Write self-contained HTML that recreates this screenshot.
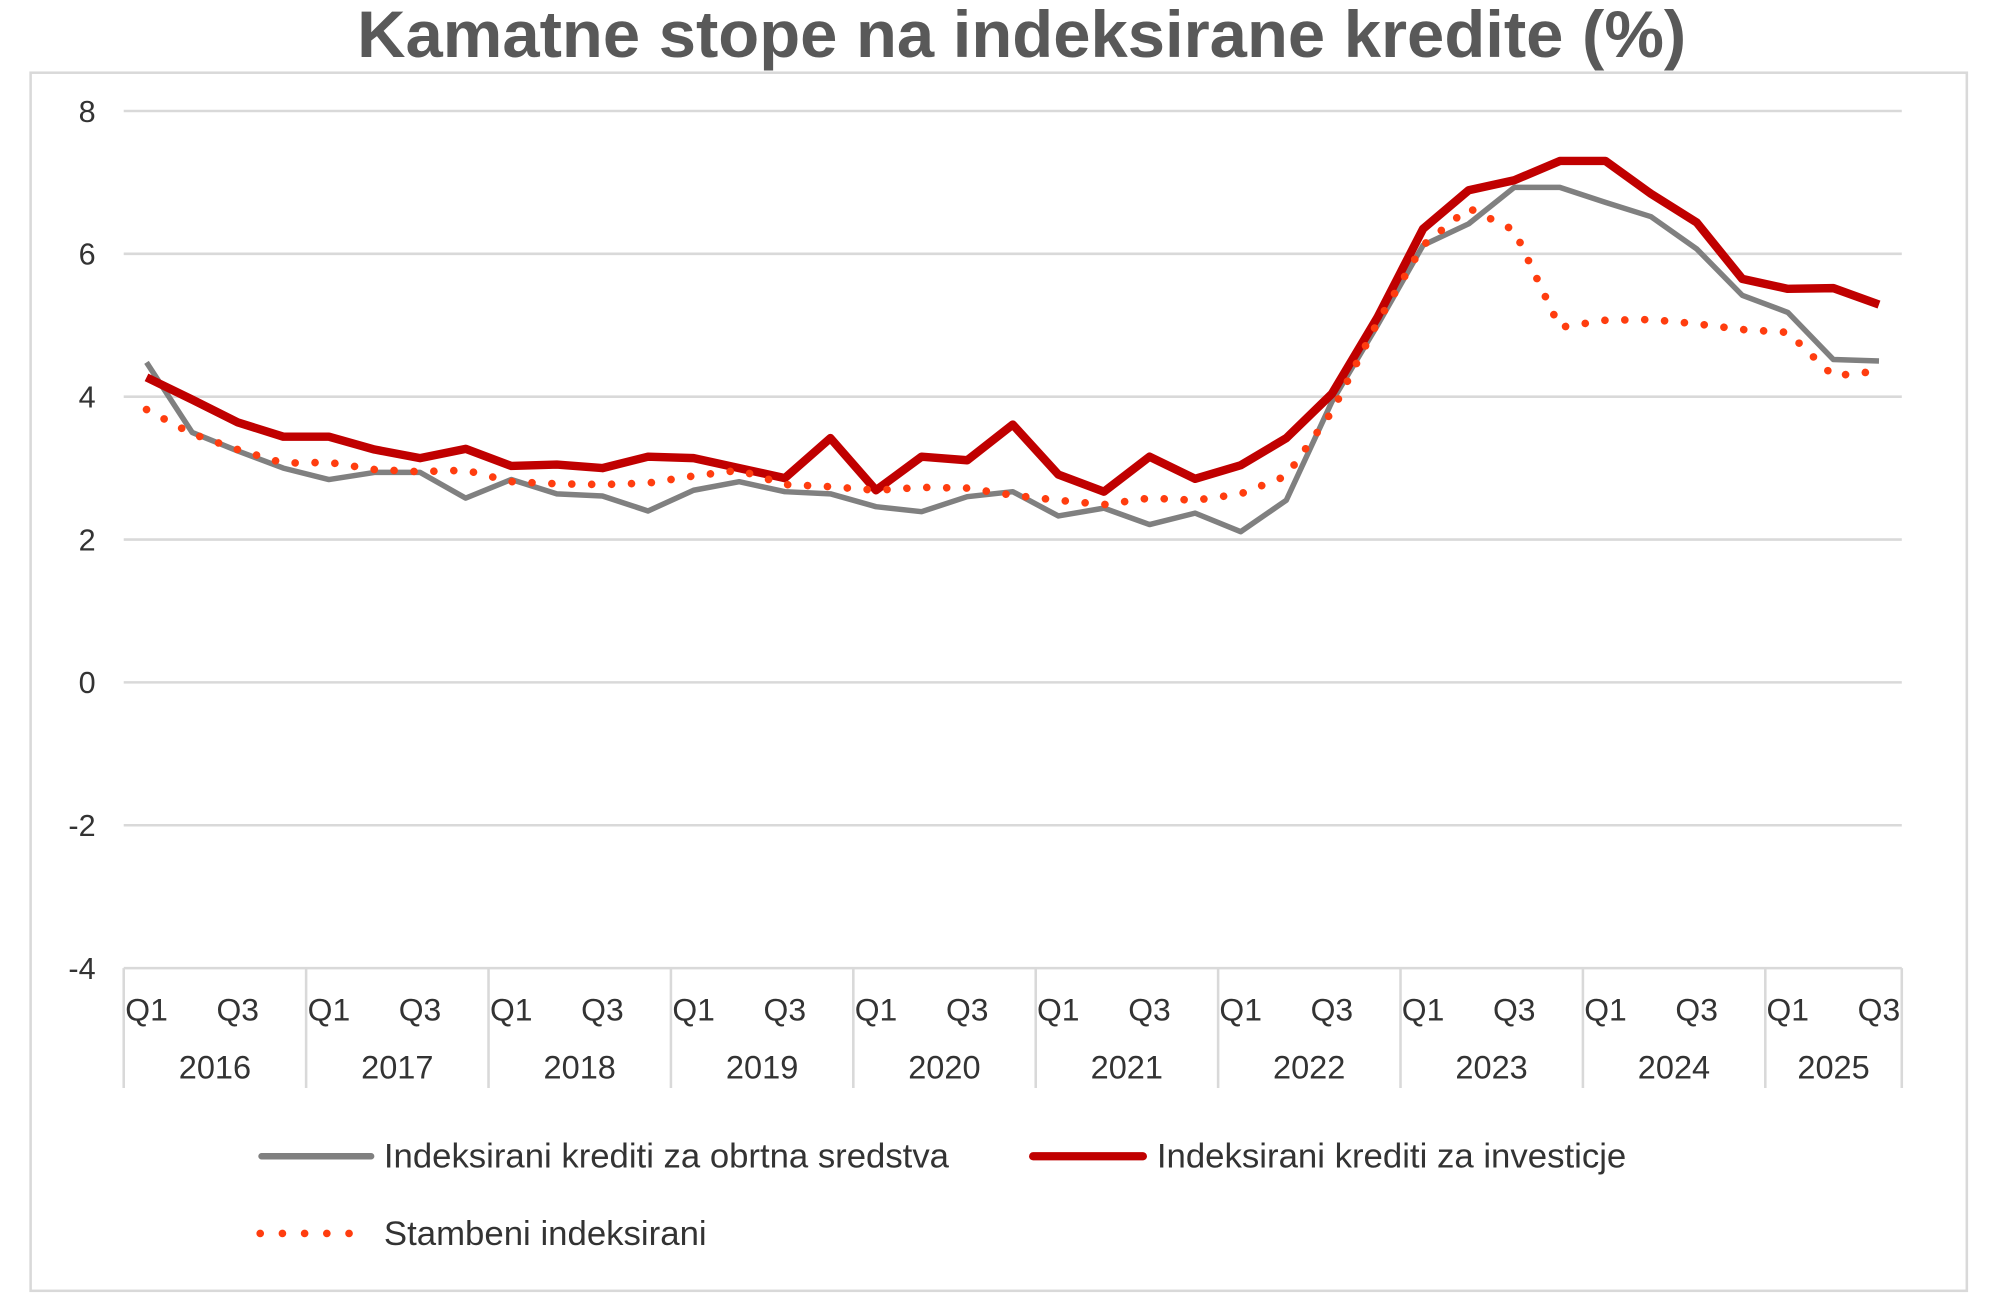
<!DOCTYPE html>
<html>
<head>
<meta charset="utf-8">
<style>
  html, body { margin: 0; padding: 0; background: #ffffff; }
  body { width: 2000px; height: 1300px; overflow: hidden; }
  svg { display: block; }
  text { font-family: "Liberation Sans", Arial, sans-serif; }
</style>
</head>
<body>
<svg width="2000" height="1300" viewBox="0 0 1568 1019.2" preserveAspectRatio="none" xmlns="http://www.w3.org/2000/svg">
  <rect x="0" y="0" width="1568" height="1019.2" fill="#ffffff"/>

  <!-- Title -->
  <text x="801" y="44.5" text-anchor="middle" font-size="52" font-weight="bold" fill="#595959" textLength="1042" lengthAdjust="spacingAndGlyphs">Kamatne stope na indeksirane kredite (%)</text>

  <!-- Chart border -->
  <rect x="24" y="57" width="1518" height="955" fill="#ffffff" stroke="#d9d9d9" stroke-width="2"/>

  <!-- Gridlines -->
  <g stroke="#d9d9d9" stroke-width="2">
    <line x1="97" y1="87" x2="1491" y2="87"/>
    <line x1="97" y1="199" x2="1491" y2="199"/>
    <line x1="97" y1="311" x2="1491" y2="311"/>
    <line x1="97" y1="423" x2="1491" y2="423"/>
    <line x1="97" y1="535" x2="1491" y2="535"/>
    <line x1="97" y1="647" x2="1491" y2="647"/>
    <line x1="97" y1="759" x2="1491" y2="759"/>
  </g>

  <!-- Y labels -->
  <g font-size="24" fill="#333333" text-anchor="end">
    <text x="75" y="95.5">8</text>
    <text x="75" y="207.5">6</text>
    <text x="75" y="319.5">4</text>
    <text x="75" y="431.5">2</text>
    <text x="75" y="543.5">0</text>
    <text x="75" y="655.5">-2</text>
    <text x="75" y="767.5">-4</text>
  </g>

  <!-- X axis separators -->
  <g stroke="#d9d9d9" stroke-width="2">
    <line x1="97" y1="759" x2="97" y2="853"/>
    <line x1="240" y1="759" x2="240" y2="853"/>
    <line x1="383" y1="759" x2="383" y2="853"/>
    <line x1="526" y1="759" x2="526" y2="853"/>
    <line x1="669" y1="759" x2="669" y2="853"/>
    <line x1="812" y1="759" x2="812" y2="853"/>
    <line x1="955" y1="759" x2="955" y2="853"/>
    <line x1="1098" y1="759" x2="1098" y2="853"/>
    <line x1="1241" y1="759" x2="1241" y2="853"/>
    <line x1="1384" y1="759" x2="1384" y2="853"/>
    <line x1="1491" y1="759" x2="1491" y2="853"/>
  </g>

  <!-- Quarter labels -->
  <g font-size="25" fill="#333333" text-anchor="middle">
    <text x="114.9" y="800">Q1</text><text x="186.4" y="800">Q3</text>
    <text x="257.9" y="800">Q1</text><text x="329.3" y="800">Q3</text>
    <text x="400.8" y="800">Q1</text><text x="472.3" y="800">Q3</text>
    <text x="543.8" y="800">Q1</text><text x="615.3" y="800">Q3</text>
    <text x="686.8" y="800">Q1</text><text x="758.3" y="800">Q3</text>
    <text x="829.7" y="800">Q1</text><text x="901.2" y="800">Q3</text>
    <text x="972.7" y="800">Q1</text><text x="1044.2" y="800">Q3</text>
    <text x="1115.7" y="800">Q1</text><text x="1187.2" y="800">Q3</text>
    <text x="1258.7" y="800">Q1</text><text x="1330.2" y="800">Q3</text>
    <text x="1401.6" y="800">Q1</text><text x="1473.1" y="800">Q3</text>
  </g>

  <!-- Year labels -->
  <g font-size="25.5" fill="#333333" text-anchor="middle">
    <text x="168.5" y="845.5">2016</text>
    <text x="311.5" y="845.5">2017</text>
    <text x="454.5" y="845.5">2018</text>
    <text x="597.5" y="845.5">2019</text>
    <text x="740.4" y="845.5">2020</text>
    <text x="883.4" y="845.5">2021</text>
    <text x="1026.4" y="845.5">2022</text>
    <text x="1169.4" y="845.5">2023</text>
    <text x="1312.4" y="845.5">2024</text>
    <text x="1437.5" y="845.5">2025</text>
  </g>

  <!-- Series: gray (obrtna sredstva) -->
  <polyline fill="none" stroke="#808080" stroke-width="4.3" stroke-linejoin="round"
    points="114.87,284.12 150.62,339 186.36,353.56 222.10,367 257.85,375.96 293.59,370.36 329.33,370.36 365.08,390.52 400.82,375.96 436.56,387.16 472.31,388.84 508.05,400.6 543.80,384.36 579.54,377.64 615.28,385.48 651.03,387.16 686.77,397.24 722.51,401.16 758.26,389.4 794.00,385.48 829.74,404.52 865.49,398.36 901.23,411.24 936.97,402.28 972.72,416.84 1008.46,392.2 1044.21,314.92 1079.95,255 1115.69,192.28 1151.44,175.48 1187.18,146.92 1222.92,146.92 1258.67,158.68 1294.41,169.88 1330.15,195.08 1365.90,231.48 1401.64,244.92 1437.38,281.88 1473.13,283"/>

  <!-- Series: red (investicije) -->
  <polyline fill="none" stroke="#c00000" stroke-width="6.6" stroke-linejoin="round"
    points="114.87,295.88 150.62,313.24 186.36,331.16 222.10,342.36 257.85,342.36 293.59,352.44 329.33,359.16 365.08,351.88 400.82,365.32 436.56,364.2 472.31,367 508.05,358.04 543.80,359.16 579.54,367 615.28,374.84 651.03,343.48 686.77,384.36 722.51,358.04 758.26,360.84 794.00,332.84 829.74,372.04 865.49,385.48 901.23,358.04 936.97,375.4 972.72,364.76 1008.46,343.48 1044.21,308.76 1079.95,248.84 1115.69,179.4 1151.44,149.16 1187.18,141.32 1222.92,126.2 1258.67,126.2 1294.41,151.96 1330.15,174.36 1365.90,218.6 1401.64,226.44 1437.38,225.88 1473.13,238.76"/>

  <!-- Series: orange dotted (stambeni) -->
  <polyline fill="none" stroke="#ff3d0f" stroke-width="6" stroke-linecap="round" stroke-linejoin="round" stroke-dasharray="0.01 15.6"
    points="114.87,321.08 150.62,340.12 186.36,352.44 222.10,363.08 257.85,362.52 293.59,368.12 329.33,369.8 365.08,368.68 400.82,377.64 436.56,379.32 472.31,379.88 508.05,378.76 543.80,373.16 579.54,368.68 615.28,379.88 651.03,381.56 686.77,384.36 722.51,382.12 758.26,382.68 794.00,388.28 829.74,392.2 865.49,395.56 901.23,390.52 936.97,392.2 972.72,387.16 1008.46,373.16 1044.21,322.76 1079.95,252.76 1115.69,192.28 1151.44,163.16 1187.18,180.52 1222.92,256.68 1258.67,251.08 1294.41,250.52 1330.15,253.88 1365.90,258.36 1401.64,260.6 1437.38,294.76 1473.13,290.84"/>

  <!-- Legend -->
  <line x1="205" y1="906.5" x2="291" y2="906.5" stroke="#808080" stroke-width="5" stroke-linecap="round"/>
  <text x="301" y="915.5" font-size="27" fill="#333333" textLength="443" lengthAdjust="spacingAndGlyphs">Indeksirani krediti za obrtna sredstva</text>

  <line x1="810" y1="906.5" x2="896" y2="906.5" stroke="#c00000" stroke-width="6.5" stroke-linecap="round"/>
  <text x="907" y="915.5" font-size="27" fill="#333333" textLength="368" lengthAdjust="spacingAndGlyphs">Indeksirani krediti za investicje</text>

  <line x1="204" y1="967" x2="291" y2="967" stroke="#ff3d0f" stroke-width="6" stroke-linecap="round" stroke-dasharray="0.01 17.4"/>
  <text x="301" y="976" font-size="27" fill="#333333" textLength="253" lengthAdjust="spacingAndGlyphs">Stambeni indeksirani</text>
</svg>
</body>
</html>
